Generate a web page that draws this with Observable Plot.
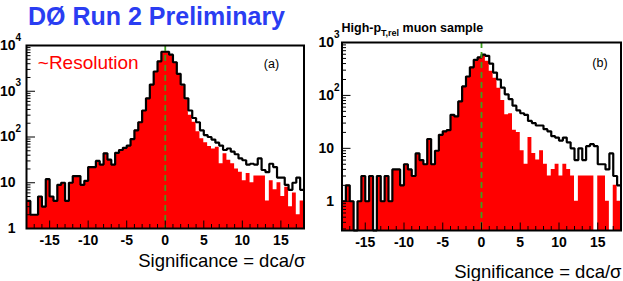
<!DOCTYPE html>
<html>
<head>
<meta charset="utf-8">
<script src="https://cdn.jsdelivr.net/npm/d3@7"></script>
<script src="https://cdn.jsdelivr.net/npm/@observablehq/plot@0.6"></script>
<style>
  html, body { margin: 0; padding: 0; background: #fff; }
  #wrap { position: relative; width: 623px; height: 281px; overflow: hidden;
          font-family: "Liberation Sans", Arial, Helvetica, sans-serif; }
  .panel { position: absolute; top: 0; }
  #title { position: absolute; left: 28px; top: 3.8px; font-size: 25px; line-height: 25px;
           font-weight: bold; color: #2a3df2; white-space: nowrap; z-index: 5; }
  #sub { position: absolute; left: 341.5px; top: 22.4px; font-size: 12.5px; line-height: 12.5px;
         font-weight: bold; color: #000; white-space: nowrap; z-index: 5; }
  #sub sub { font-size: 9px; vertical-align: -4px; line-height: 0; }
</style>
</head>
<body>
<div id="wrap">
  <div id="pa" class="panel" style="left:0px"></div>
  <div id="pb" class="panel" style="left:320px"></div>
  <div id="title">DØ Run 2 Preliminary</div>
  <div id="sub">High-p<sub>T,rel</sub> muon sample</div>
</div>
<script>
// ---- data: histogram contents, 72 bins of width 0.5 from -18 to 18 ----
const binLow = -18;
const binWidth = 0.5;

// panel (a): all tracks (black outline) and the red-filled subset
const aTotal = [
  4, 2, 2, 5, 3, 12, 5, 4, 9, 10, 4, 10, 14, 14, 9, 11, 22, 22,
  30, 25, 44, 32, 25, 45, 52, 58, 65, 90, 140, 210, 380, 700, 1400, 2700, 4500, 7300,
  7300, 6300, 4300, 2400, 1400, 700, 380, 260, 210, 140, 110, 100, 88, 75, 65, 52, 56, 48,
  42, 34, 31, 25, 26, 25, 34, 19, 17, 26, 22, 13, 13, 9, 7, 10, 13, 7
];
const aRed = [
  4, 2, 2, 5, 3, 12, 5, 4, 9, 10, 4, 10, 14, 14, 9, 11, 22, 22,
  30, 25, 44, 32, 25, 45, 52, 58, 65, 90, 140, 210, 380, 700, 1400, 2700, 4500, 7300,
  7300, 6300, 4300, 2400, 1300, 650, 300, 210, 130, 92, 75, 62, 55, 60, 26, 43, 31, 26,
  20, 17, 11, 16, 10, 14, 14, 14, 4, 11, 7, 10, 5, 8, 3, 6, 2, 4
];

// panel (b): high-pT,rel muon sample
const bTotal = [
  1, 2, 1, 0, 1, 3, 1, 3, 0, 3, 1, 3, 1, 4, 4, 2, 5, 4,
  3, 8, 6, 5, 15, 5, 9, 18, 21, 22, 43, 40, 77, 148, 228, 340, 470, 525,
  590, 560, 400, 270, 200, 140, 105, 85, 64, 52, 46, 43, 33, 30, 27, 27, 23, 21,
  17, 16, 14, 16, 13, 10, 6, 10, 6, 11, 12, 11, 5, 5, 4, 8, 3, 2
];
const bRed = [
  1, 2, 1, 0, 1, 3, 1, 3, 0, 3, 1, 3, 1, 4, 4, 2, 5, 4,
  3, 8, 6, 5, 15, 5, 9, 18, 21, 22, 43, 40, 77, 148, 228, 340, 470, 525,
  590, 440, 285, 210, 137, 80, 43, 45, 22, 20, 9, 5, 16, 8, 6, 9, 5, 3,
  4, 5, 3, 5, 4, 3, 1, 3, 3, 3, 3, 0, 3, 3, 1, 0, 2, 1
];

// axes / labels
const xTickValues = [-15, -10, -5, 0, 5, 10, 15];
const aDecades = [1, 10, 100, 1000, 10000];
const bDecades = [1, 10, 100, 1000];
const axisTitle = "Significance = dca/σ";
const annotation = "~Resolution";
const tagA = "(a)";
const tagB = "(b)";

const FONT = '"Liberation Sans", Arial, Helvetica, sans-serif';

function panel(cfg) {
  const { total, red, yDomain, width, height, margin, decades, padY, tag, tagDx, tagDy,
          titleDx, titleDy, extra } = cfg;
  const ymin = yDomain[0], ymax = yDomain[1];
  const nBins = total.length;
  const edges = total.map((_, i) => binLow + i * binWidth);
  const xEnd = binLow + nBins * binWidth;
  const mk = vals => {
    const r = vals.map((v, i) => ({ x: edges[i], v: Math.max(v, ymin), b: ymin }));
    r.push({ x: xEnd, v: Math.max(vals[vals.length - 1], ymin), b: ymin });
    return r;
  };
  const innerW = width - margin.left - margin.right;
  const innerH = height - margin.top - margin.bottom;
  const minorX = d3.range(-17, 18, 1).filter(d => d % 5 !== 0);
  const minorY = [];
  for (let e = Math.floor(Math.log10(ymin)); e < Math.ceil(Math.log10(ymax)); e++) {
    for (let k = 2; k <= 9; k++) {
      const v = k * Math.pow(10, e);
      if (v >= ymin * 0.999 && v <= ymax) minorY.push(v);
    }
  }
  return Plot.plot({
    width, height,
    marginLeft: margin.left, marginRight: margin.right,
    marginTop: margin.top, marginBottom: margin.bottom,
    x: { domain: [binLow, xEnd] },
    y: { type: "log", domain: yDomain },
    style: { fontFamily: FONT, background: "transparent", overflow: "visible", color: "#000" },
    marks: [
      Plot.area(mk(red), { x1: "x", y1: "b", y2: "v", curve: "step-after", fill: "#ff0000" }),
      Plot.line(mk(total), { x: "x", y: "v", curve: "step-after", stroke: "#000",
                             strokeWidth: 2.2, strokeLinejoin: "miter", strokeLinecap: "butt" }),
      Plot.ruleX([0], { stroke: "#3d9e1e", strokeWidth: 1.8, strokeDasharray: "6,4" }),
      Plot.tickX(minorX, { x: d => d, insetTop: innerH - 4, stroke: "#000" }),
      Plot.tickX(xTickValues, { x: d => d, insetTop: innerH - 7.5, stroke: "#000" }),
      Plot.tickY(minorY, { y: d => d, insetRight: innerW - 4.5, stroke: "#000" }),
      Plot.tickY(decades, { y: d => d, insetRight: innerW - 9, stroke: "#000" }),
      Plot.frame({ stroke: "#000", strokeWidth: 2 }),
      Plot.axisX(xTickValues, { tickSize: 0, tickPadding: 7, tickFormat: d => String(d),
                                fontSize: 14, fontWeight: "bold", label: null }),
      Plot.axisY(decades, { tickSize: 0, tickPadding: padY, tickFormat: d => (d === 1 ? "1" : "10"),
                            fontSize: 14, fontWeight: "bold", label: null }),
      Plot.text(decades.filter(d => d > 10), { y: d => d, text: d => String(Math.round(Math.log10(d))),
                frameAnchor: "left", textAnchor: "start", dx: -padY, dy: -8,
                fontSize: 10, fontWeight: "bold" }),
      Plot.text([axisTitle], { frameAnchor: "bottom-right", textAnchor: "end", lineAnchor: "bottom",
                               dx: titleDx, dy: titleDy, fontSize: 18.5 }),
      Plot.text([tag], { frameAnchor: "top-right", textAnchor: "middle", lineAnchor: "middle",
                         dx: tagDx, dy: tagDy, fontSize: 12.5 }),
      ...(extra || [])
    ]
  });
}

const plotA = panel({
  total: aTotal, red: aRed, yDomain: [1, 10000],
  width: 320, height: 281, margin: { left: 26, right: 16.5, top: 45, bottom: 53 },
  decades: aDecades, padY: 11, tag: tagA, tagDx: -32.5, tagDy: 18,
  titleDx: 1.5, titleDy: 38,
  extra: [
    Plot.text([annotation], { frameAnchor: "top-left", textAnchor: "start", lineAnchor: "bottom",
                              dx: 11.3, dy: 23.3, fontSize: 19, fill: "#ff0000" })
  ]
});
document.getElementById("pa").appendChild(plotA);

const plotB = panel({
  total: bTotal, red: bRed, yDomain: [0.28, 1000],
  width: 303, height: 281, margin: { left: 21.5, right: 2.5, top: 42, bottom: 51 },
  decades: bDecades, padY: 8, tag: tagB, tagDx: -21, tagDy: 20.7,
  titleDx: 0.5, titleDy: 47
});
document.getElementById("pb").appendChild(plotB);
</script>
</body>
</html>
